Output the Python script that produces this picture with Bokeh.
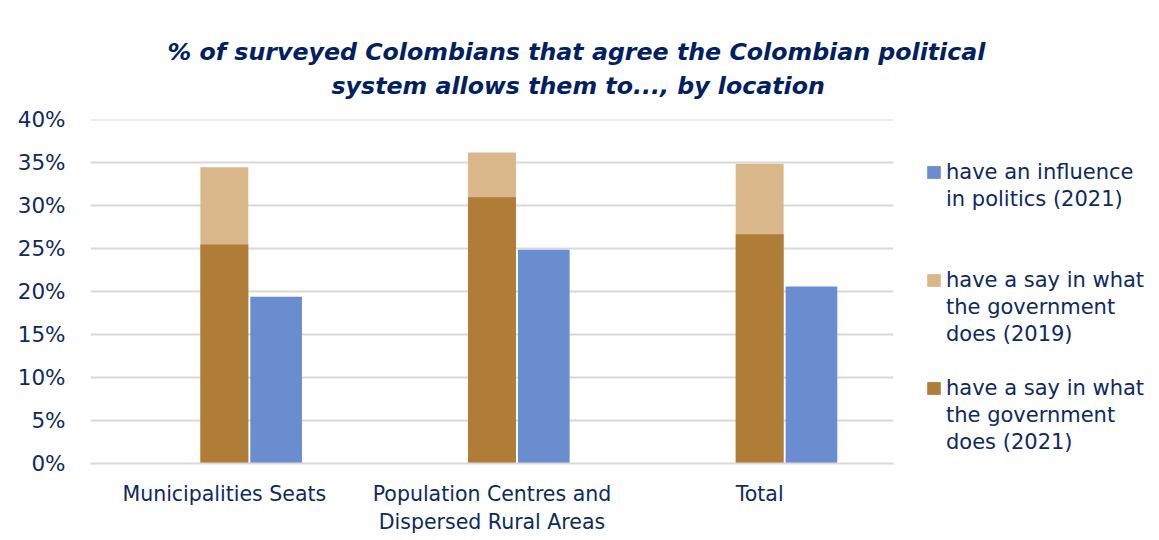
from bokeh.plotting import figure
from bokeh.models import (ColumnDataSource, FactorRange, Range1d, Legend, LegendItem,
                          Title, NumeralTickFormatter, FixedTicker)
from bokeh.transform import dodge
from bokeh.embed import file_html
from bokeh.resources import INLINE

# ---- data ----
categories = ["Municipalities Seats", "Population Centres and\nDispersed Rural Areas", "Total"]
influence_2021 = [0.194, 0.249, 0.206]
say_2019 = [0.345, 0.362, 0.349]
say_2021 = [0.255, 0.310, 0.267]
y_ticks = [0.0, 0.05, 0.10, 0.15, 0.20, 0.25, 0.30, 0.35, 0.40]
series_lines = [["have an influence", "in politics (2021)"],
                ["have a say in what", "the government", "does (2019)"],
                ["have a say in what", "the government", "does (2021)"]]
title_line1 = "% of surveyed Colombians that agree the Colombian political"
title_line2 = "system allows them to..., by location"

BLUE = "#6A8DD0"
TAN = "#DAB78A"
BROWN = "#B07D38"
NAVY = "#0E2A5E"
TITLE_NAVY = "#002060"
GRID = "#D9D9D9"
FONT = "DejaVu Sans"

src = ColumnDataSource(dict(cat=categories, influence=influence_2021,
                            say19=say_2019, say21=say_2021))

p = figure(frame_width=803, frame_height=344, output_backend="svg", toolbar_location=None,
           x_range=FactorRange(factors=categories, range_padding=0),
           y_range=Range1d(0, 0.4005))
p.min_border_left = 90
p.min_border_right = 266
p.min_border_top = 119
p.min_border_bottom = 77
p.outline_line_color = None
p.background_fill_color = "white"
p.border_fill_color = "white"

r19 = p.vbar(x=dodge("cat", 0.0, range=p.x_range), top="say19", width=0.179,
             source=src, fill_color=TAN, line_color=None)
r21 = p.vbar(x=dodge("cat", 0.0, range=p.x_range), top="say21", width=0.179,
             source=src, fill_color=BROWN, line_color=None)
rinf = p.vbar(x=dodge("cat", 0.1935, range=p.x_range), top="influence", width=0.193,
              source=src, fill_color=BLUE, line_color=None)
# invisible renderer used for the continuation lines of the legend
rnone = p.vbar(x=[], top=[], width=0.1, fill_alpha=0, line_alpha=0)

# axes
p.yaxis.ticker = FixedTicker(ticks=y_ticks)
p.yaxis.formatter = NumeralTickFormatter(format="0%")
p.yaxis.axis_line_color = None
p.yaxis.major_tick_line_color = None
p.yaxis.minor_tick_line_color = None
p.yaxis.major_label_standoff = 19
p.yaxis.major_label_text_font = FONT
p.yaxis.major_label_text_font_size = "21.5px"
p.yaxis.major_label_text_color = NAVY

p.xaxis.axis_line_color = GRID
p.xaxis.axis_line_width = 2
p.xaxis.major_tick_line_color = None
p.xaxis.minor_tick_line_color = None
p.xaxis.major_label_standoff = 12
p.xaxis.major_label_text_font = FONT
p.xaxis.major_label_text_font_size = "20.5px"
p.xaxis.major_label_text_line_height = 1.2
p.xaxis.major_label_text_color = NAVY

p.xgrid.grid_line_color = None
p.ygrid.grid_line_color = GRID
p.ygrid.grid_line_width = 2

# title (two lines, placed individually)
t2 = Title(text=title_line2, align="left", offset=241, text_font=FONT,
           text_font_style="bold italic", text_font_size="23.7px",
           text_color=TITLE_NAVY, standoff=40)
t1 = Title(text=title_line1, align="left", offset=77, text_font=FONT,
           text_font_style="bold italic", text_font_size="23.7px",
           text_color=TITLE_NAVY, standoff=-32)
p.add_layout(t2, "above")
p.add_layout(t1, "above")

# legend: one row per text line
items = []
for k, (lines, rr) in enumerate(zip(series_lines, [rinf, r19, r21])):
    for j, line in enumerate(lines):
        items.append(LegendItem(label=line, renderers=[rr if j == 0 else rnone]))
    if k == 0:
        items += [LegendItem(label=" ", renderers=[rnone]) for _ in range(2)]
    elif k == 1:
        items.append(LegendItem(label=" ", renderers=[rnone]))

legend = Legend(items=items, location=(32, 8), padding=0, margin=0, spacing=0,
                border_line_color=None, background_fill_alpha=0,
                glyph_width=17, glyph_height=16, label_standoff=4, label_height=27,
                label_text_font=FONT, label_text_font_size="21px",
                label_text_color=NAVY)
p.add_layout(legend, "right")

open("out.html", "w").write(file_html(p, INLINE))
